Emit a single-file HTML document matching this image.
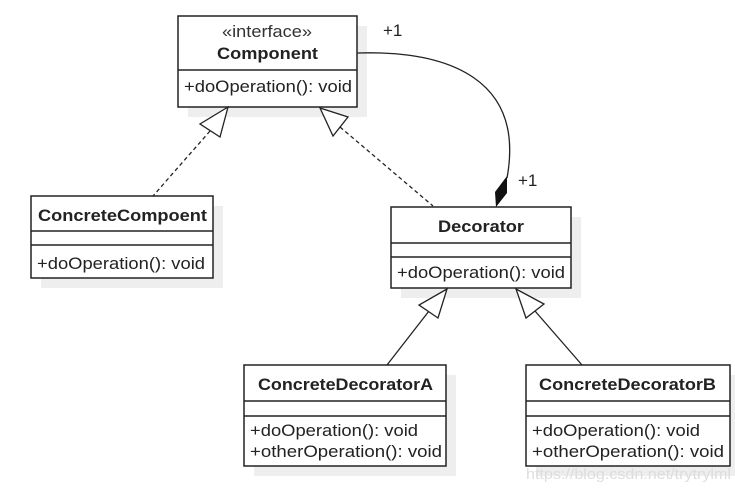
<!DOCTYPE html>
<html><head><style>body{margin:0;background:#fff}</style></head><body>
<svg width="735" height="491" xmlns="http://www.w3.org/2000/svg" font-family="Liberation Sans, sans-serif" font-size="17" fill="#222">
<g fill="#eee">
<rect x="188" y="26" width="179" height="91"/>
<rect x="41" y="206" width="182" height="82"/>
<rect x="401" y="217" width="180" height="81"/>
<rect x="254" y="375" width="202" height="101"/>
<rect x="536" y="375" width="199" height="101"/>
</g>
<g fill="#fff" stroke="#222" stroke-width="1.5">
<rect x="178" y="16" width="179" height="91"/>
<rect x="31" y="196" width="182" height="82"/>
<rect x="391" y="207" width="180" height="81"/>
<rect x="244" y="365" width="202" height="101"/>
<rect x="526" y="365" width="204" height="101"/>
</g>
<g stroke="#222" stroke-width="1.5">
<line x1="178" y1="70" x2="357" y2="70"/>
<line x1="31" y1="231" x2="213" y2="231"/>
<line x1="31" y1="245" x2="213" y2="245"/>
<line x1="391" y1="243" x2="571" y2="243"/>
<line x1="391" y1="257" x2="571" y2="257"/>
<line x1="244" y1="401" x2="446" y2="401"/>
<line x1="244" y1="416" x2="446" y2="416"/>
<line x1="526" y1="401" x2="730" y2="401"/>
<line x1="526" y1="416" x2="730" y2="416"/>
</g>
<text x="222" y="37" fill="#333" textLength="90" lengthAdjust="spacingAndGlyphs">«interface»</text>
<text x="217" y="59" font-weight="bold" textLength="101" lengthAdjust="spacingAndGlyphs">Component</text>
<text x="38" y="221" font-weight="bold" textLength="169" lengthAdjust="spacingAndGlyphs">ConcreteCompoent</text>
<text x="438" y="232" font-weight="bold" textLength="86" lengthAdjust="spacingAndGlyphs">Decorator</text>
<text x="258" y="390" font-weight="bold" textLength="175" lengthAdjust="spacingAndGlyphs">ConcreteDecoratorA</text>
<text x="539" y="390" font-weight="bold" textLength="177" lengthAdjust="spacingAndGlyphs">ConcreteDecoratorB</text>
<text x="184" y="92" textLength="168" lengthAdjust="spacingAndGlyphs">+doOperation(): void</text>
<text x="37" y="269" textLength="168" lengthAdjust="spacingAndGlyphs">+doOperation(): void</text>
<text x="397" y="278" textLength="168" lengthAdjust="spacingAndGlyphs">+doOperation(): void</text>
<text x="250" y="436" textLength="168" lengthAdjust="spacingAndGlyphs">+doOperation(): void</text>
<text x="250" y="457" textLength="192" lengthAdjust="spacingAndGlyphs">+otherOperation(): void</text>
<text x="532" y="436" textLength="168" lengthAdjust="spacingAndGlyphs">+doOperation(): void</text>
<text x="532" y="457" textLength="192" lengthAdjust="spacingAndGlyphs">+otherOperation(): void</text>
<text x="383" y="36">+1</text>
<text x="518" y="186">+1</text>
<text x="526" y="479" fill="#ddd" font-size="15" textLength="205" lengthAdjust="spacingAndGlyphs">https://blog.csdn.net/trytrylml</text>
<g stroke="#222" stroke-width="1.3" fill="none">
<line x1="210" y1="131" x2="153" y2="196" stroke-dasharray="4,3"/>
<line x1="340" y1="127" x2="433" y2="206" stroke-dasharray="4,3"/>
<polygon points="228,107 200,124 220,137" fill="#fff"/>
<polygon points="320,108 348,117 333,136" fill="#fff"/>
<path d="M357,53 C450,50 525,80 507,178"/>
<line x1="429" y1="311" x2="387" y2="365"/>
<line x1="535" y1="311" x2="582" y2="365"/>
<polygon points="447,289 419,305 438,318" fill="#fff"/>
<polygon points="516,289 544,304 526,318" fill="#fff"/>
</g>
<polygon points="496,207 495,192 507,176 507,193" fill="#111"/>
</svg>
</body></html>
